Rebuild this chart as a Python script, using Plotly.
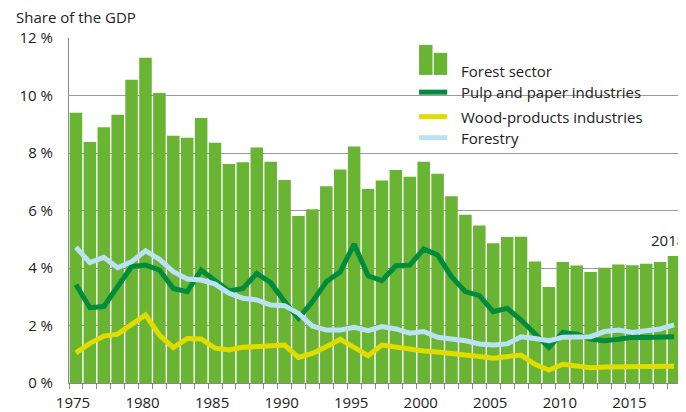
import plotly.graph_objects as go

# Data (share of GDP, %)
years = list(range(1975, 2019))
forest_sector = [9.40, 8.38, 8.90, 9.33, 10.55, 11.31, 10.09, 8.60, 8.53, 9.22,
                 8.36, 7.62, 7.68, 8.19, 7.70, 7.06, 5.81, 6.04, 6.84, 7.43,
                 8.23, 6.75, 7.04, 7.41, 7.17, 7.70, 7.28, 6.50, 5.85, 5.48,
                 4.86, 5.08, 5.09, 4.23, 3.34, 4.21, 4.09, 3.86, 4.01, 4.12,
                 4.10, 4.15, 4.21, 4.42]
pulp_paper = [3.42, 2.62, 2.66, 3.35, 4.05, 4.10, 3.93, 3.29, 3.18, 3.93,
              3.58, 3.20, 3.29, 3.81, 3.49, 2.83, 2.25, 2.83, 3.52, 3.87,
              4.83, 3.73, 3.56, 4.08, 4.10, 4.66, 4.45, 3.70, 3.18, 3.04,
              2.48, 2.60, 2.19, 1.73, 1.24, 1.76, 1.70, 1.53, 1.47, 1.52,
              1.59, 1.58, 1.59, 1.61]
wood_products = [1.05, 1.38, 1.63, 1.70, 2.04, 2.37, 1.67, 1.23, 1.55, 1.53,
                 1.21, 1.15, 1.24, 1.26, 1.32, 1.32, 0.89, 1.03, 1.26, 1.52,
                 1.24, 0.95, 1.32, 1.24, 1.17, 1.11, 1.08, 1.03, 1.01, 0.92,
                 0.86, 0.92, 0.97, 0.65, 0.45, 0.65, 0.57, 0.53, 0.56, 0.57,
                 0.55, 0.55, 0.57, 0.58]
forestry = [4.72, 4.19, 4.37, 4.01, 4.22, 4.60, 4.30, 3.87, 3.62, 3.58,
            3.44, 3.12, 2.95, 2.89, 2.71, 2.69, 2.42, 1.98, 1.84, 1.84,
            1.94, 1.82, 1.96, 1.88, 1.73, 1.79, 1.59, 1.53, 1.47, 1.36,
            1.32, 1.36, 1.61, 1.55, 1.47, 1.59, 1.61, 1.61, 1.79, 1.84,
            1.76, 1.84, 1.88, 2.02]
label_years = [1975, 1980, 1985, 1990, 1995, 2000, 2005, 2010, 2015]
y_ticks = [0, 2, 4, 6, 8, 10, 12]

BAR = '#69b433'
PULP = '#008b3d'
WOOD = '#e1dc00'
FORESTRY = '#bae2f4'
TEXT = '#222222'
FONT = 'Open Sans'
FS = 15

fig = go.Figure()

fig.add_trace(go.Bar(x=years, y=forest_sector, marker_color=BAR,
                     marker_line_width=0, name='Forest sector'))
fig.add_trace(go.Scatter(x=years, y=pulp_paper, mode='lines',
                         line=dict(color=PULP, width=5), name='Pulp and paper industries'))
fig.add_trace(go.Scatter(x=years, y=wood_products, mode='lines',
                         line=dict(color=WOOD, width=5), name='Wood-products industries'))
fig.add_trace(go.Scatter(x=years, y=forestry, mode='lines',
                         line=dict(color=FORESTRY, width=5), name='Forestry'))

# tick marks on bar boundaries, labels every five years
tick_vals = [y - 0.5 for y in years] + [years[-1] + 0.5]
tick_text = [str(y) if y in label_years else '' for y in years] + ['']

# hand-made legend box
shapes = [
    dict(type='rect', xref='paper', yref='paper', x0=0.558, x1=0.954, y0=0.675, y1=0.992,
         fillcolor='white', line_width=0, layer='between'),
    dict(type='rect', xref='paper', yref='paper', x0=0.572, x1=0.594, y0=0.893, y1=0.980,
         fillcolor=BAR, line_width=0),
    dict(type='rect', xref='paper', yref='paper', x0=0.596, x1=0.618, y0=0.893, y1=0.957,
         fillcolor=BAR, line_width=0),
]
legend_rows = [('Pulp and paper industries', PULP, 0.843),
               ('Wood-products industries', WOOD, 0.772),
               ('Forestry', FORESTRY, 0.711)]
annotations = [dict(text='Forest sector', xref='paper', yref='paper', x=0.637, y=0.905,
                    xanchor='left', yanchor='middle', showarrow=False,
                    font=dict(size=FS, color=TEXT, family=FONT))]
for name, col, yp in legend_rows:
    shapes.append(dict(type='line', xref='paper', yref='paper', x0=0.572, x1=0.618,
                       y0=yp, y1=yp, line=dict(color=col, width=5)))
    annotations.append(dict(text=name, xref='paper', yref='paper', x=0.637, y=yp,
                            xanchor='left', yanchor='middle', showarrow=False,
                            font=dict(size=FS, color=TEXT, family=FONT)))

annotations.append(dict(text='Share of the GDP', xref='paper', yref='paper', x=-0.09, y=1.061,
                        xanchor='left', yanchor='middle', showarrow=False,
                        font=dict(size=FS, color=TEXT, family=FONT)))
annotations.append(dict(text='2018', x=years[-1], y=forest_sector[-1], yshift=16, xshift=-6,
                        xanchor='center', yanchor='middle', showarrow=False,
                        font=dict(size=FS, color=TEXT, family=FONT)))

# the page body adds an 8px offset, so the figure is sized to fill the rest
fig.update_layout(
    width=678, height=404,
    margin=dict(l=61, r=5, t=30, b=29, autoexpand=False),
    paper_bgcolor='white', plot_bgcolor='white',
    showlegend=False,
    bargap=0.1,
    font=dict(family=FONT, size=FS, color=TEXT),
    shapes=shapes,
    annotations=annotations,
    xaxis=dict(range=[years[0] - 0.5, years[-1] + 0.5], tickmode='array',
               tickvals=tick_vals, ticktext=tick_text, ticks='outside', ticklen=5,
               tickcolor='#888888', showline=True, linecolor='#888888', linewidth=1,
               showgrid=False, zeroline=False, ticklabelshift=4, ticklabelstandoff=1,
               tickfont=dict(size=FS, color=TEXT, family=FONT)),
    yaxis=dict(range=[0, 12], tickmode='array', tickvals=y_ticks,
               ticktext=[f'{v} %' for v in y_ticks], showgrid=True,
               gridcolor='#9a9a9a', gridwidth=1, showline=True, linecolor='#888888',
               linewidth=1, zeroline=False, ticks='', ticklabelstandoff=12,
               tickfont=dict(size=FS, color=TEXT, family=FONT)),
)

fig.write_html('out.html')
